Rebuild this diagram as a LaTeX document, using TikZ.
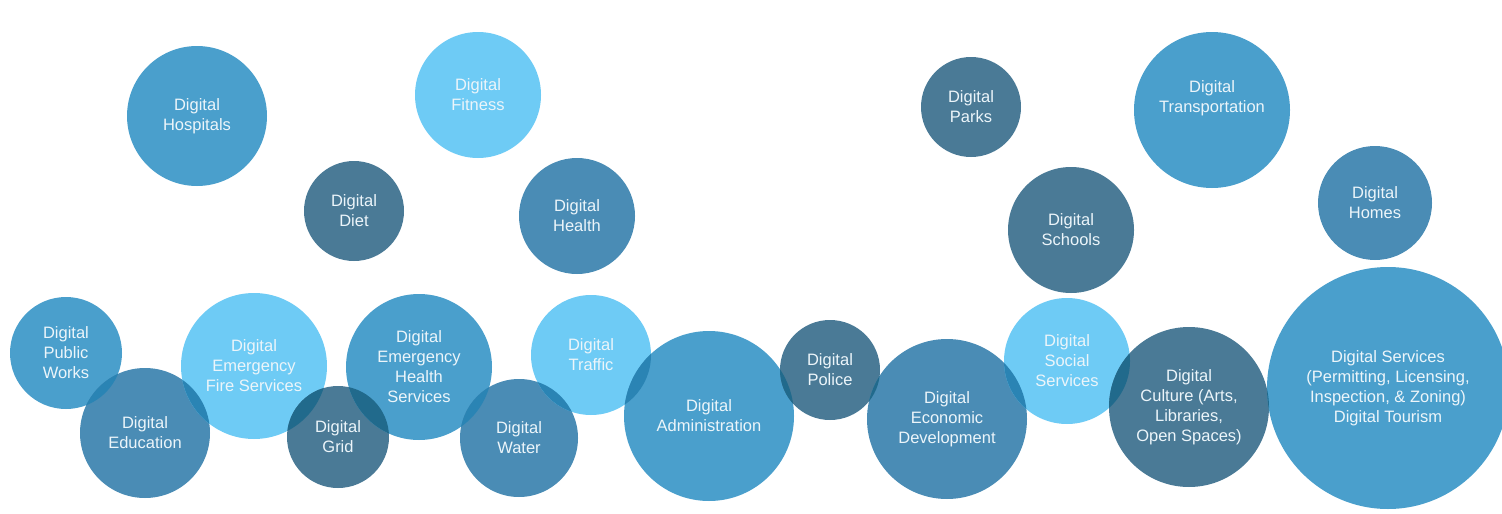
\documentclass[tikz,border=0pt]{standalone}
\usepackage{fontspec}
\setmainfont{Liberation Sans}
\definecolor{cmid}{RGB}{74,159,204}
\definecolor{clight}{RGB}{110,203,245}
\definecolor{cdark}{RGB}{74,122,150}
\definecolor{cmed}{RGB}{74,140,181}
\definecolor{ovA}{RGB}{42,132,180}
\definecolor{ovB}{RGB}{33,106,140}
\definecolor{txtc}{RGB}{236,245,250}
\newcommand\lens[5]{\begin{scope}\clip (#1.center) circle[radius=#2pt]; \fill[#5] (#3.center) circle[radius=#4pt];\end{scope}}
\tikzset{
  bub/.style={circle, draw=none, inner sep=0pt},
  mid/.style={bub, fill=cmid},
  light/.style={bub, fill=clight},
  dark/.style={bub, fill=cdark},
  med/.style={bub, fill=cmed},
  lbl/.style={text=txtc, align=center, inner sep=0pt, font=\fontsize{16.5}{20}\selectfont}
}
\begin{document}
\begin{tikzpicture}[x=1pt,y=-1pt]
\useasboundingbox (0,0) rectangle (1502,514);
% circles
\node[mid, minimum size=140pt] (hosp) at (197,116) {};
\node[light, minimum size=126pt] (fit) at (478,95) {};
\node[dark, minimum size=100pt] (diet) at (354,211) {};
\node[med, minimum size=116pt] (health) at (577,216) {};
\node[dark, minimum size=100pt] (parks) at (971,107) {};
\node[mid, minimum size=156pt] (trans) at (1212,110) {};
\node[med, minimum size=114pt] (homes) at (1375,203) {};
\node[dark, minimum size=126pt] (schools) at (1071,230) {};
\node[mid, minimum size=112pt] (pw) at (66,353) {};
\node[med, minimum size=130pt] (edu) at (145,433) {};
\node[light, minimum size=146pt] (fire) at (254,366) {};
\node[dark, minimum size=102pt] (grid) at (338,437) {};
\node[mid, minimum size=146pt] (emh) at (419,367) {};
\node[med, minimum size=118pt] (water) at (519,438) {};
\node[light, minimum size=120pt] (traffic) at (591,355) {};
\node[mid, minimum size=170pt] (admin) at (709,416) {};
\node[dark, minimum size=100pt] (police) at (830,370) {};
\node[med, minimum size=160pt] (econ) at (947,419) {};
\node[light, minimum size=126pt] (social) at (1067,361) {};
\node[dark, minimum size=160pt] (culture) at (1189,407) {};
\node[mid, minimum size=242pt] (services) at (1388,388) {};
% overlaps
\lens{pw}{56}{edu}{65}{ovA}
\lens{edu}{65}{fire}{73}{ovA}
\lens{fire}{73}{grid}{51}{ovB}
\lens{grid}{51}{emh}{73}{ovB}
\lens{emh}{73}{water}{59}{ovA}
\lens{water}{59}{traffic}{60}{ovA}
\lens{traffic}{60}{admin}{85}{ovA}
\lens{admin}{85}{police}{50}{ovB}
\lens{police}{50}{econ}{80}{ovB}
\lens{econ}{80}{social}{63}{ovA}
\lens{social}{63}{culture}{80}{ovB}
\lens{culture}{80}{services}{121}{ovB}
% labels
\node[lbl] (hospT) at (hosp.center) {Digital\\Hospitals};
\node[lbl] (fitT) at (fit.center) {Digital\\Fitness};
\node[lbl] (dietT) at (diet.center) {Digital\\Diet};
\node[lbl] (healthT) at (health.center) {Digital\\Health};
\node[lbl] (parksT) at (parks.center) {Digital\\Parks};
\node[lbl] (transT) at ([yshift=12pt]trans.center) {Digital\\Transportation};
\node[lbl] (homesT) at (homes.center) {Digital\\Homes};
\node[lbl] (schoolsT) at (schools.center) {Digital\\Schools};
\node[lbl] (pwT) at (pw.center) {Digital\\Public\\Works};
\node[lbl] (eduT) at (edu.center) {Digital\\Education};
\node[lbl] (fireT) at (fire.center) {Digital\\Emergency\\Fire Services};
\node[lbl] (gridT) at (grid.center) {Digital\\Grid};
\node[lbl] (emhT) at (emh.center) {Digital\\Emergency\\Health\\Services};
\node[lbl] (waterT) at (water.center) {Digital\\Water};
\node[lbl] (trafficT) at (traffic.center) {Digital\\Traffic};
\node[lbl] (adminT) at (admin.center) {Digital\\Administration};
\node[lbl] (policeT) at (police.center) {Digital\\Police};
\node[lbl] (econT) at (econ.center) {Digital\\Economic\\Development};
\node[lbl] (socialT) at (social.center) {Digital\\Social\\Services};
\node[lbl] (cultureT) at (culture.center) {Digital\\Culture (Arts,\\Libraries,\\Open Spaces)};
\node[lbl] (servicesT) at (services.center) {Digital Services\\(Permitting, Licensing,\\Inspection, \& Zoning)\\Digital Tourism};
\end{tikzpicture}
\end{document}
